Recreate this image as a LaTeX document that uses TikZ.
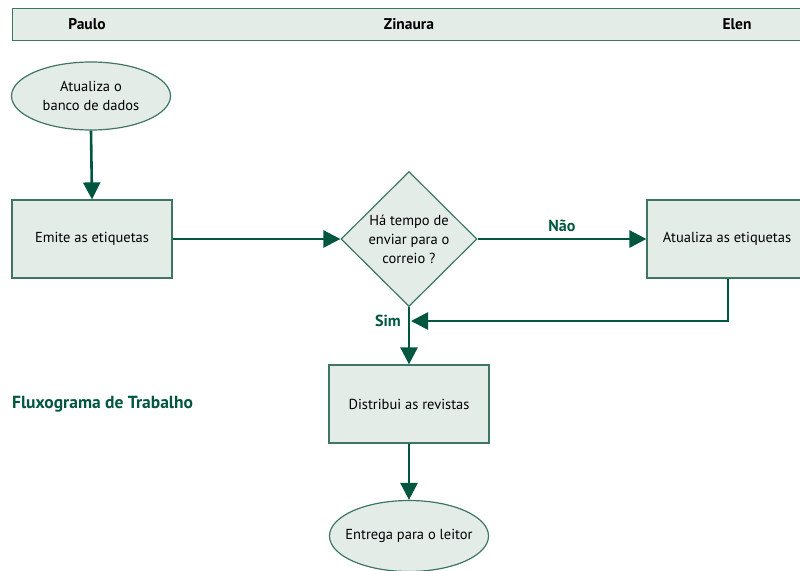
\documentclass[tikz,border=0pt]{standalone}
\usepackage{fontspec}
\setmainfont{PT Sans}
\usetikzlibrary{shapes.geometric,arrows.meta}
\definecolor{dgreen}{HTML}{00563F}
\definecolor{boxfill}{HTML}{E4ECE8}
\definecolor{boxline}{HTML}{3E7565}
\tikzset{
  x=1pt,y=-1pt,
  every node/.style={font=\fontsize{14.5}{19}\selectfont, align=center, inner sep=0pt},
  boxnode/.style={draw=boxline, line width=1.2pt, fill=boxfill, minimum width=160pt, minimum height=78pt},
  ovalnode/.style={ellipse, draw=boxline, line width=1.2pt, fill=boxfill, minimum width=159pt, minimum height=68pt},
  decnode/.style={diamond, draw=boxline, line width=1.2pt, fill=boxfill, minimum width=136pt, minimum height=135pt, aspect=1},
  flow/.style={draw=dgreen, line width=2.6pt, -{Triangle[length=17pt,width=17pt]}},
  lbl/.style={font=\fontsize{16}{18}\selectfont\bfseries, text=dgreen},
  hdr/.style={font=\fontsize{15.5}{18}\selectfont\bfseries, text=black}
}
\begin{document}
\begin{tikzpicture}
\useasboundingbox (0,0) rectangle (800,570);
\clip (0,0) rectangle (800,570);
\node[draw=boxline, line width=1.2pt, fill=boxfill, minimum width=800pt, minimum height=32pt, anchor=north west] (bar) at (12,8) {};
\node[hdr] (paulo) at (87,24) {Paulo};
\node[hdr] (zin) at (409,24) {Zinaura};
\node[hdr] (elen) at (737,24) {Elen};

\node[ovalnode, inner xsep=-4pt] (upd) at (91,96) {Atualiza o\\banco de dados};
\node[boxnode] (emit) at (92,239) {Emite as etiquetas};
\node[decnode] (dec) at (409,239) {Há tempo de\\enviar para o\\correio ?};
\node[boxnode] (atl) at (727,239) {Atualiza as etiquetas};
\node[boxnode] (dist) at (409,404) {Distribui as revistas};
\node[ovalnode, minimum height=71pt, inner xsep=-9pt] (ent) at (409,536) {Entrega para o leitor};
\node[lbl, font=\fontsize{17.5}{20}\selectfont\bfseries, anchor=west] (title) at (12,404) {Fluxograma de Trabalho};

\coordinate (join) at (409,321);
\draw[flow] (upd.south) -- (emit.north);
\draw[flow] (emit.east) -- (dec.west);
\draw[flow] (dec.east) -- node[lbl, above=6pt] (nao) {Não} (atl.west);
\draw[flow] (atl.south -| 728,0) |- ([xshift=2pt]join);
\draw[flow] (dec.south) -- (dist.north);
\node[lbl] (sim) at (388,321) {Sim};
\draw[flow] (dist.south) -- (ent.north);
\end{tikzpicture}
\end{document}
